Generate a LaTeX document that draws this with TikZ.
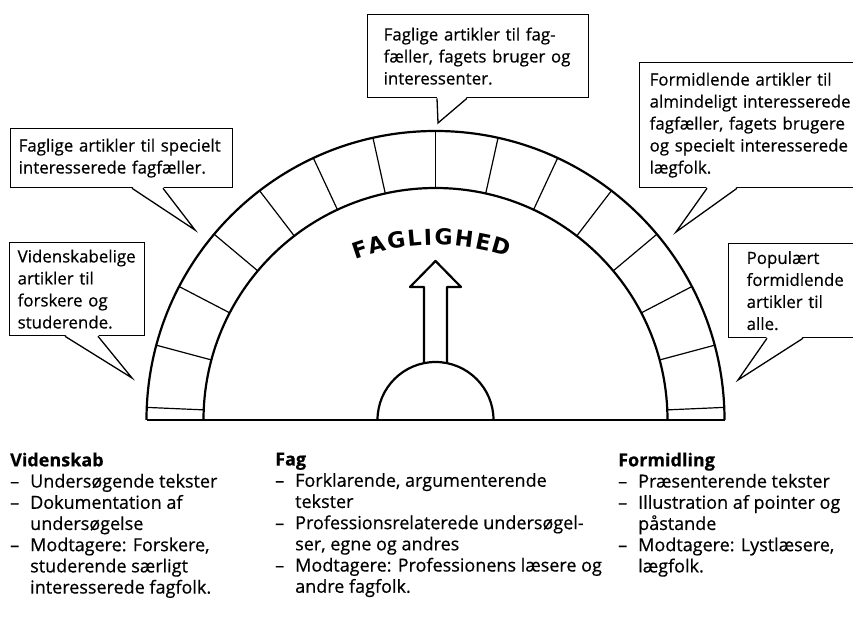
\documentclass[tikz,border=0pt]{standalone}
\usepackage{fontspec}
\setmainfont{Open Sans}[FakeBold=0.5]
\newfontfamily\archfont{DejaVu Sans}
\usetikzlibrary{calc}
\tikzset{
  callout/.style={draw, line width=1.3pt, fill=white, rectangle, anchor=north west,
    align=left, inner ysep=0pt, font=\fontsize{16.9}{22}\selectfont},
  archline/.style={line width=2.2pt},
  joint/.style={line width=1.2pt},
  ptr/.style={line width=1.3pt, line join=miter},
  col/.style={anchor=north west, align=left, inner sep=0pt, font=\fontsize{18}{21.2}\selectfont},
  archletter/.style={inner sep=0pt, font=\archfont\bfseries\fontsize{22}{22}\selectfont},
}
\newcommand{\dl}{\makebox[20pt][l]{–}}
\newcommand{\ind}{\hspace*{20pt}}
\begin{document}
\begin{tikzpicture}[x=1pt,y=1pt]
\useasboundingbox (0,0) rectangle (853,620);
\clip (0,0) rectangle (853,620);
\coordinate (c) at (435.5,200);
% arch
\draw[archline] ($(c)+(-289,0)$) arc[start angle=180,end angle=0,radius=289];
\draw[archline] ($(c)+(-232,0)$) arc[start angle=180,end angle=0,radius=232];
\foreach \k in {0,...,14} {
  \pgfmathsetmacro{\a}{2.5+12.5*\k}
  \draw[joint] ($(c)+(\a:232)$) -- ($(c)+(\a:289)$);
}
\draw[archline] ($(c)+(-289,0)$) -- ($(c)+(289,0)$);
% dome and arrow
\draw[archline] ($(c)+(-58,0)$) arc[start angle=180,end angle=0,radius=58];
\draw[archline, line join=round] (424,256.9) -- (424,333) -- (410,333) -- (435.5,359)
  -- (461,333) -- (447,333) -- (447,256.9);
% FAGLIGHED
\foreach \ch/\t [count=\i] in {F/-18.54,A/-14.37,G/-9.53,L/-5.08,I/-1.81,G/1.95,H/6.95,E/11.57,D/16.18}
  \node[archletter, rotate=-\t] (fl\i) at ($(435.5,145)+(90-\t:238)$) {\ch};

% callouts
\node[callout, minimum width=221, minimum height=83, text width=189, inner xsep=16] (b1) at (367,606)
  {Faglige artikler til fag-\\fæller, fagets bruger og\\interessenter.};
\node[callout, minimum width=222, minimum height=59, text width=206, inner xsep=8] (b2) at (10,492)
  {Faglige artikler til specielt\\interesserede fagfæller.};
\node[callout, minimum width=135, minimum height=93, text width=119, inner xsep=8] (b3) at (9,378)
  {Videnskabelige\\artikler til\\forskere og\\studerende.};
\node[callout, minimum width=240, minimum height=125, text width=220, inner xsep=10] (b4) at (639,558)
  {Formidlende artikler til\\almindeligt interesserede\\fagfæller, fagets brugere\\og specielt interesserede\\lægfolk.};
\node[callout, minimum width=150, minimum height=94, text width=114, inner xsep=18] (b5) at (728,377)
  {Populært\\formidlende\\artikler til\\alle.};

% pointers
\coordinate (t1) at (438,497);
\coordinate (t2) at (195,390);
\coordinate (t3) at (132,242);
\coordinate (t4) at (676,388);
\coordinate (t5) at (738,240);
\foreach \b/\t/\pa/\pb in {b1/t1/70/100, b2/t2/122/153, b3/t3/56/89, b4/t4/68/98, b5/t5/39/75} {
  \coordinate (\b a) at ($(\b.south west)+(\pa,0)$);
  \coordinate (\b b) at ($(\b.south west)+(\pb,0)$);
  \fill[white] ($(\b a)+(0,1.5)$) -- (\t) -- ($(\b b)+(0,1.5)$) -- cycle;
  \draw[ptr] (\b a) -- (\t) -- (\b b);
}

% bottom columns
\node[col] (c1) at (10,167.5) {\textbf{Videnskab}\\
  \dl Undersøgende tekster\\
  \dl Dokumentation af\\
  \ind undersøgelse\\
  \dl Modtagere: Forskere,\\
  \ind studerende særligt\\
  \ind interesserede fagfolk.};
\node[col] (c2) at (275,167.5) {\textbf{Fag}\\
  \dl Forklarende, argumenterende\\
  \ind tekster\\
  \dl Professionsrelaterede undersøgel-\\
  \ind ser, egne og andres\\
  \dl Modtagere: Professionens læsere og\\
  \ind andre fagfolk.};
\node[col] (c3) at (618,167.5) {\textbf{Formidling}\\
  \dl Præsenterende tekster\\
  \dl Illustration af pointer og\\
  \ind påstande\\
  \dl Modtagere: Lystlæsere,\\
  \ind lægfolk.};
\end{tikzpicture}
\end{document}
